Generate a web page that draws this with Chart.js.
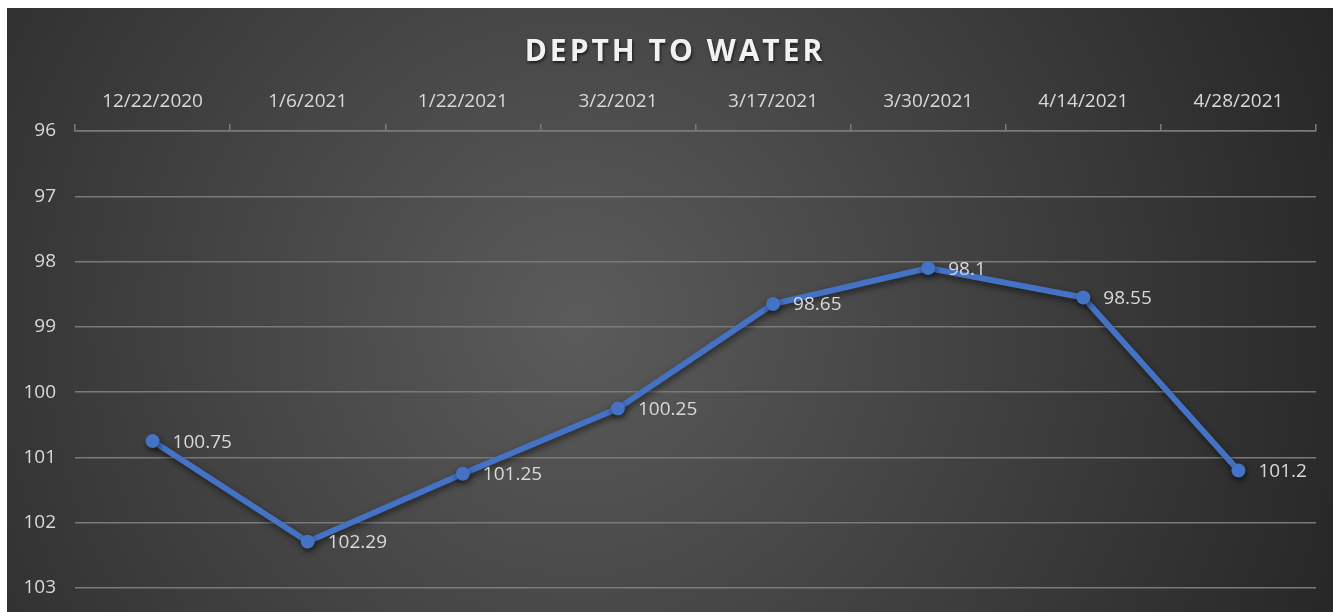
<!DOCTYPE html>
<html>
<head>
<meta charset="utf-8">
<script src="https://cdn.jsdelivr.net/npm/chart.js@4/dist/chart.umd.min.js"></script>
<style>
  html, body { margin: 0; padding: 0; background: #ffffff; overflow: hidden; }
  #wrap { position: absolute; left: 7px; top: 8px; width: 1326px; height: 604px; }
</style>
</head>
<body>
<div id="wrap"><canvas id="c"></canvas></div>
<script>
const chartTitle = 'DEPTH TO WATER';
const categories = ['12/22/2020', '1/6/2021', '1/22/2021', '3/2/2021', '3/17/2021', '3/30/2021', '4/14/2021', '4/28/2021'];
const depthValues = [100.75, 102.29, 101.25, 100.25, 98.65, 98.1, 98.55, 101.2];
const yMin = 96;
const yMax = 103;

const FONT = '"Open Sans", "Liberation Sans", sans-serif';
const TEXT = '#d9d9d9';
const GRID = '#7a7a7a';

const bgPlugin = {
  id: 'bg',
  beforeDraw(chart) {
    const { ctx, width, height } = chart;
    ctx.save();
    const g = ctx.createRadialGradient(width * 0.43, height * 0.52, 0, width * 0.43, height * 0.52, width * 0.62);
    g.addColorStop(0, '#5b5b5b');
    g.addColorStop(1, '#262626');
    ctx.fillStyle = g;
    ctx.fillRect(0, 0, width, height);
    ctx.restore();
  }
};

const titlePlugin = {
  id: 'customTitle',
  afterDraw(chart) {
    const { ctx } = chart;
    ctx.save();
    ctx.font = 'bold 30px ' + FONT;
    if ('letterSpacing' in ctx) ctx.letterSpacing = '3px';
    ctx.fillStyle = '#f2f2f2';
    ctx.textAlign = 'center';
    ctx.textBaseline = 'middle';
    ctx.shadowColor = 'rgba(0,0,0,0.6)';
    ctx.shadowBlur = 3;
    ctx.shadowOffsetX = 1;
    ctx.shadowOffsetY = 2;
    ctx.fillText(chartTitle, 668, 44);
    ctx.restore();
  }
};

const shadowPlugin = {
  id: 'lineShadow',
  beforeDatasetDraw(chart) {
    const ctx = chart.ctx;
    ctx.save();
    ctx.shadowColor = 'rgba(0,0,0,0.55)';
    ctx.shadowBlur = 6;
    ctx.shadowOffsetX = 1;
    ctx.shadowOffsetY = 3;
  },
  afterDatasetDraw(chart) {
    chart.ctx.restore();
  }
};

const labelPlugin = {
  id: 'pointLabels',
  afterDatasetsDraw(chart) {
    const { ctx } = chart;
    const meta = chart.getDatasetMeta(0);
    ctx.save();
    ctx.font = '19px ' + FONT;
    ctx.fillStyle = TEXT;
    ctx.textAlign = 'left';
    ctx.textBaseline = 'middle';
    meta.data.forEach((pt, i) => {
      ctx.fillText(String(depthValues[i]), pt.x + 20, pt.y + 1);
    });
    ctx.restore();
  }
};

new Chart(document.getElementById('c'), {
  type: 'line',
  data: {
    labels: categories,
    datasets: [{
      data: depthValues,
      borderColor: '#4472c4',
      backgroundColor: '#4472c4',
      borderWidth: 6,
      pointRadius: 7,
      pointHoverRadius: 7,
      pointBorderWidth: 0,
      tension: 0,
      fill: false
    }]
  },
  options: {
    responsive: true,
    maintainAspectRatio: false,
    animation: false,
    events: [],
    layout: { padding: { top: 0, right: 17, bottom: 24, left: 0 } },
    plugins: {
      legend: { display: false },
      title: { display: false },
      tooltip: { enabled: false }
    },
    scales: {
      x: {
        position: 'top',
        offset: true,
        grid: {
          offset: true,
          drawOnChartArea: false,
          drawTicks: true,
          tickLength: 7,
          color: GRID,
          lineWidth: 1.5
        },
        border: { display: true, color: GRID, width: 1.5 },
        ticks: {
          color: TEXT,
          font: { family: FONT, size: 19 },
          padding: 11,
          maxRotation: 0,
          autoSkip: false
        },
        afterFit(scale) { scale.height = 123; scale.paddingLeft = 0; scale.paddingRight = 0; }
      },
      y: {
        reverse: true,
        min: yMin,
        max: yMax,
        grid: {
          color: GRID,
          lineWidth: 1.5,
          drawTicks: false
        },
        border: { display: false },
        ticks: {
          stepSize: 1,
          color: TEXT,
          font: { family: FONT, size: 19 },
          padding: 19
        },
        afterFit(scale) { scale.width = 68; scale.paddingTop = 0; scale.paddingBottom = 0; }
      }
    }
  },
  plugins: [bgPlugin, shadowPlugin, labelPlugin, titlePlugin]
});
</script>
</body>
</html>
